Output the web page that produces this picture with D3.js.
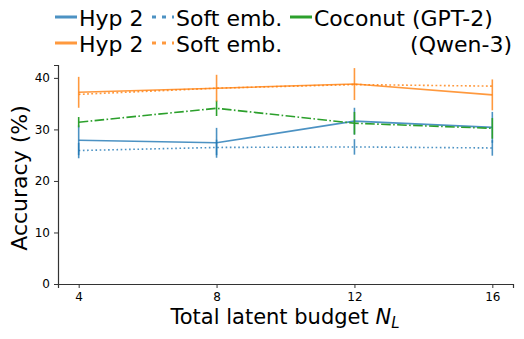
<!DOCTYPE html>
<html>
<head>
<meta charset="utf-8">
<script src="https://cdn.jsdelivr.net/npm/d3@7"></script>
<style>
  body { margin: 0; background: #fff; }
  svg { font-family: "DejaVu Sans", sans-serif; }
</style>
</head>
<body>
<div id="chart"></div>
<script>
// x values (total latent budget)
const budgets = [4, 8, 12, 16];
const yTicks = [0, 10, 20, 30, 40];

// GPT-2 (blue)
const gptHyp2 = [27.9, 27.4, 31.6, 30.4];
const gptHyp2Err = [2.9, 2.9, 2.6, 3.0];
const gptSoft = [25.9, 26.5, 26.6, 26.4];
const gptSoftErr = [1.5, 1.5, 1.5, 1.5];
const gptCoconut = [31.4, 34.1, 31.2, 30.2];
const gptCoconutErr = [1.0, 1.5, 2.2, 2.0];

// Qwen-3 (orange)
const qwenHyp2 = [37.2, 38.0, 38.8, 36.7];
const qwenHyp2Err = [3.0, 2.6, 3.1, 3.0];
const qwenSoft = [36.8, 38.0, 38.7, 38.4];

const W = 524, H = 339;
const margin = { top: 65, right: 11, bottom: 55, left: 58 };
const width = W - margin.left - margin.right;
const height = H - margin.top - margin.bottom;

const blue = 'rgba(31,119,180,0.8)';
const orange = 'rgba(255,127,14,0.8)';
const green = '#2ca02c';

const svg = d3.select('#chart').append('svg')
    .attr('width', W).attr('height', H);
const g = svg.append('g')
    .attr('transform', 'translate(' + margin.left + ',' + margin.top + ')');

const x = d3.scaleLinear().domain([3.4, 16.6]).range([0, width]);
const y = d3.scaleLinear().domain([0, 42.5]).range([height, 0]);

// axes
const xAxis = g.append('g').attr('transform', 'translate(0,' + height + ')')
    .call(d3.axisBottom(x).tickValues(budgets).tickSize(4).tickPadding(4));
const yAxis = g.append('g')
    .call(d3.axisLeft(y).tickValues(yTicks).tickSize(4).tickPadding(4));
[xAxis, yAxis].forEach(a => {
  a.selectAll('text').attr('font-size', 12).attr('fill', '#000')
      .attr('font-family', '"DejaVu Sans", sans-serif');
  a.selectAll('line').attr('stroke', '#333').attr('stroke-width', 1);
  a.select('.domain').attr('stroke', '#333').attr('stroke-width', 1.2);
});

function series(vals, errs, color, dash) {
  const pts = budgets.map((b, i) => ({ b: b, v: vals[i], e: errs ? errs[i] : 0 }));
  g.append('path').datum(pts)
      .attr('fill', 'none').attr('stroke', color).attr('stroke-width', 1.6)
      .attr('stroke-dasharray', dash)
      .attr('d', d3.line().x(d => x(d.b)).y(d => y(d.v)));
  if (errs) {
    g.selectAll(null).data(pts).enter().append('line')
        .attr('x1', d => x(d.b)).attr('x2', d => x(d.b))
        .attr('y1', d => y(d.v - d.e)).attr('y2', d => y(d.v + d.e))
        .attr('stroke', color).attr('stroke-width', 1.6);
  }
}

series(gptSoft, gptSoftErr, blue, '1.6,2.6');
series(gptHyp2, gptHyp2Err, blue, null);
series(gptCoconut, gptCoconutErr, green, '9.6,2.4,1.6,2.4');
series(qwenSoft, null, orange, '1.8,2.4');
series(qwenHyp2, qwenHyp2Err, orange, null);

// axis labels
svg.append('text')
    .attr('x', 285).attr('y', 324)
    .attr('text-anchor', 'middle').attr('font-size', 21)
    .html('Total latent budget <tspan font-style="italic">N</tspan><tspan font-style="italic" font-size="15" dy="4">L</tspan>');
svg.append('text')
    .attr('transform', 'translate(27,178) rotate(-90)')
    .attr('text-anchor', 'middle').attr('font-size', 22)
    .text('Accuracy (%)');

// legend
const legendItems = [
  { x: 55, y: 17, color: blue, dash: null, label: 'Hyp 2' },
  { x: 55, y: 43, color: orange, dash: null, label: 'Hyp 2' },
  { x: 152, y: 17, color: blue, dash: '4,6', label: 'Soft emb.' },
  { x: 152, y: 43, color: orange, dash: '4,6', label: 'Soft emb.' },
  { x: 290, y: 17, color: green, dash: null, label: 'Coconut (GPT-2)' }
];
const leg = svg.append('g');
legendItems.forEach(d => {
  leg.append('line')
      .attr('x1', d.x).attr('x2', d.x + 22).attr('y1', d.y).attr('y2', d.y)
      .attr('stroke', d.color).attr('stroke-width', 3)
      .attr('stroke-dasharray', d.dash);
  leg.append('text')
      .attr('x', d.x + 24).attr('y', d.y + 9)
      .attr('font-size', 22).text(d.label);
});
leg.append('text')
    .attr('x', 512).attr('y', 52).attr('text-anchor', 'end')
    .attr('font-size', 22).text('(Qwen-3)');
</script>
</body>
</html>
